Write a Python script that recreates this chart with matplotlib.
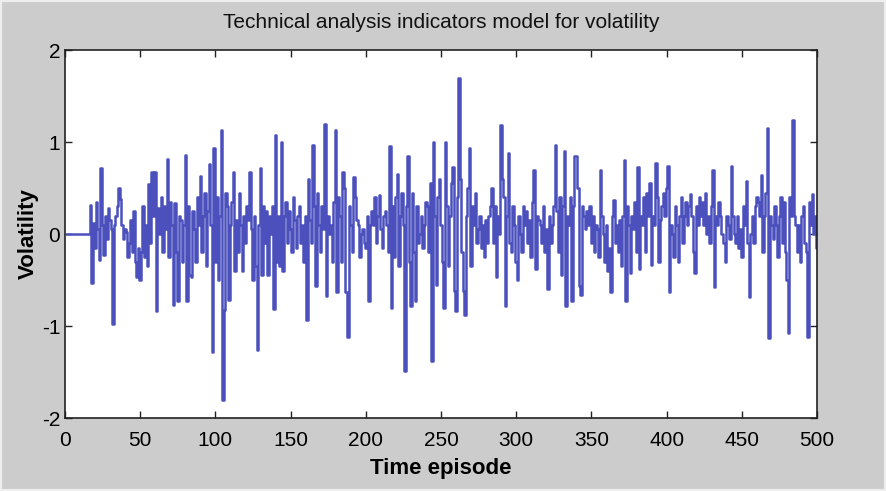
import numpy as np
import matplotlib
matplotlib.use("Agg")
import matplotlib.pyplot as plt
from matplotlib.patches import Rectangle

# volatility values, one row = 10 episodes
volatility = [
    0, 0, 0, 0, 0, 0, 0, 0, 0, 0,
    0, 0, 0, 0, 0, 0, 0.32, -0.53, 0.12, -0.15,
    0.35, 0.05, -0.28, 0.72, 0.1, -0.23, 0.2, -0.05, 0.28, 0.15,
    0.05, -0.98, 0.1, 0.2, 0.3, 0.5, 0.38, 0.1, -0.05, 0.05,
    0.02, -0.25, -0.1, 0.15, -0.2, 0.25, -0.3, -0.47, -0.15, -0.5,
    -0.2, 0.3, -0.25, 0.1, -0.35, 0.54, -0.1, 0.67, 0.2, 0.67,
    -0.84, 0.28, 0.0, 0.4, -0.2, 0.3, 0.05, 0.82, -0.25, 0.35,
    0.1, -0.77, 0.34, -0.2, -0.73, 0.2, 0.15, -0.3, 0.1, 0.86,
    -0.73, 0.3, -0.45, -0.47, 0.25, 0.05, -0.3, 0.4, 0.1, 0.63,
    -0.2, 0.2, 0.45, -0.35, 0.25, 0.76, 0.1, -1.28, 0.93, -0.3,
    0.4, -0.5, 0.2, 1.13, -1.8, -0.83, 0.45, 0.3, -0.72, 0.1,
    0.35, 0.67, -0.4, 0.15, -0.2, 0.45, 0.1, -0.4, 0.2, -0.1,
    0.3, 0.15, 0.67, 0.05, -0.5, 0.2, -0.35, -1.26, 0.1, 0.72,
    -0.45, 0.3, -0.1, 0.25, -0.45, 0.2, 0.0, 0.3, -0.81, 1.08,
    -0.3, 0.2, -0.35, 1.0, -0.4, 0.2, 0.35, -0.1, 0.25, 0.05,
    -0.2, 0.4, 0.15, -0.15, 0.2, 0.3, -0.1, 0.1, -0.3, 0.2,
    -0.93, 0.6, 0.15, -0.1, 0.97, 0.3, -0.56, 0.45, 0.1, -0.2,
    0.3, 0.05, 1.2, -0.67, 0.2, 0.0, 0.1, -0.3, 0.35, 1.13,
    -0.63, 0.4, 0.2, -0.3, 0.67, 0.5, -0.63, -1.12, 0.3, 0.1,
    -0.2, 0.62, 0.4, 0.15, 0.1, -0.25, 0.0, 0.05, -0.1, -0.15,
    0.2, -0.73, 0.1, 0.25, 0.1, 0.4, -0.1, 0.2, 0.42, 0.05,
    -0.15, 0.2, 0.25, 0.1, -0.2, 0.96, -0.8, 0.3, -0.25, 0.4,
    0.65, -0.35, 0.2, 0.45, 0.1, -1.49, 0.3, 0.85, -0.3, -0.78,
    0.45, -0.2, -0.73, 0.3, -0.1, 0.0, 0.2, -0.15, 0.1, 0.35,
    0.3, -0.2, 0.55, -1.38, 1.0, 0.2, -0.55, 0.4, 0.6, 0.1,
    -0.3, -0.8, 1.0, 0.3, -0.35, 0.2, 0.55, 0.73, -0.62, -0.84,
    0.4, 1.7, 0.6, -0.2, -0.62, -0.88, 0.2, 0.5, 0.93, -0.35,
    0.3, 0.1, 0.45, -0.1, 0.05, 0.2, -0.15, 0.1, -0.25, 0.15,
    -0.1, 0.2, 0.3, 0.5, -0.1, 0.3, -0.47, 0.2, 0.0, 1.18,
    0.6, 0.4, -0.78, 0.2, 0.88, -0.1, -0.2, 0.3, 0.1, -0.3,
    -0.5, 0.2, 0.0, -0.2, 0.3, 0.1, 0.25, -0.1, 0.15, -0.25,
    0.35, 0.7, -0.38, 0.2, 0.15, 0.1, -0.1, 0.3, -0.2, 0.05,
    -0.6, 0.2, -0.1, 0.1, 0.3, 0.97, 0.25, -0.2, 0.4, -0.45,
    0.3, 0.9, -0.78, 0.2, 0.1, 0.4, -0.73, 0.3, 0.85, 0.85,
    0.5, -0.56, -0.66, 0.3, 0.2, 0.05, 0.25, 0.1, 0.3, -0.1,
    0.2, -0.2, 0.1, 0.05, -0.25, 0.7, 0.2, 0.0, -0.3, 0.1,
    -0.4, -0.15, -0.63, 0.2, 0.37, -0.1, 0.1, -0.2, 0.15, -0.35,
    0.2, 0.8, -0.73, 0.3, 0.1, -0.42, 0.2, 0.05, 0.35, -0.2,
    0.73, -0.38, 0.2, 0.1, 0.4, -0.2, 0.45, 0.2, 0.55, -0.34,
    0.2, 0.1, 0.77, 0.4, -0.3, 0.15, 0.3, 0.45, 0.2, 0.5,
    0.74, -0.63, 0.1, 0.0, -0.25, 0.3, 0.1, -0.3, 0.2, 0.4,
    -0.1, 0.2, 0.35, 0.1, 0.3, 0.44, 0.2, -0.2, -0.42, 0.3,
    0.1, 0.4, 0.2, 0.35, 0.1, 0.45, 0.0, 0.2, -0.1, 0.3,
    0.7, -0.58, 0.2, 0.1, 0.35, 0.2, 0.0, -0.1, -0.3, 0.2,
    0.1, -0.05, 0.74, 0.2, 0.0, -0.1, 0.2, -0.15, 0.05, -0.25,
    0.3, 0.1, 0.58, -0.1, -0.68, 0.0, 0.2, -0.1, 0.3, 0.4,
    0.35, 0.2, 0.64, -0.2, 0.2, 0.45, 1.15, -1.13, 0.2, 0.1,
    -0.05, 0.3, 0.1, -0.25, 0.2, 0.4, -0.1, 0.35, -0.2, -0.5,
    -1.08, 0.4, 0.2, 1.24, 0.2, 0.1, -0.2, 0.1, -0.3, 0.2,
    0.3, -0.1, -0.2, -1.12, 0.35, 0.1, 0.44, 0.0, 0.2, -0.15,
]
episodes = list(range(1, len(volatility) + 1))

x_ticks = [0, 50, 100, 150, 200, 250, 300, 350, 400, 450, 500]
y_ticks = [-2, -1, 0, 1, 2]

title = "Technical analysis indicators model for volatility"
x_label = "Time episode"
y_label = "Volatility"

fnt = ["Liberation Sans", "DejaVu Sans"]

fig = plt.figure(figsize=(8.86, 4.91), dpi=100, facecolor="#cccccc")
# thin light frame around the figure like the screenshot
fig.patches.append(Rectangle((0, 0), 1, 1, transform=fig.transFigure,
                             fill=False, edgecolor="#eeeeee", linewidth=3))

ax = fig.add_axes([65 / 886, 1 - 418 / 491, (817 - 65) / 886, (418 - 50) / 491])
ax.set_facecolor("white")

# stepped line, looks like the vertical strokes of the original
ax.plot(episodes, volatility, color="#4b50bd", linewidth=1.8,
        drawstyle="steps-mid")

ax.set_xlim(0, 500)
ax.set_ylim(-2, 2)
ax.set_xticks(x_ticks)
ax.set_yticks(y_ticks)
ax.set_xticklabels([str(t) for t in x_ticks], family=fnt, fontsize=15)
ax.set_yticklabels([str(t) for t in y_ticks], family=fnt, fontsize=15)
ax.tick_params(axis="x", pad=9)
ax.tick_params(direction="in", top=True, right=True, length=5, width=1,
               color="#222222")
for sp in ax.spines.values():
    sp.set_linewidth(1.2)
    sp.set_color("#222222")

fig.text(441 / 886, 1 - 23 / 491, title, ha="center", va="center",
         fontsize=15, family=fnt, color="#111111")
ax.set_xlabel(x_label, fontsize=16, fontweight="bold", family=fnt, labelpad=6)
ax.set_ylabel(y_label, fontsize=16, fontweight="bold", family=fnt, labelpad=2)

plt.savefig("out.png", dpi=100, facecolor=fig.get_facecolor())
